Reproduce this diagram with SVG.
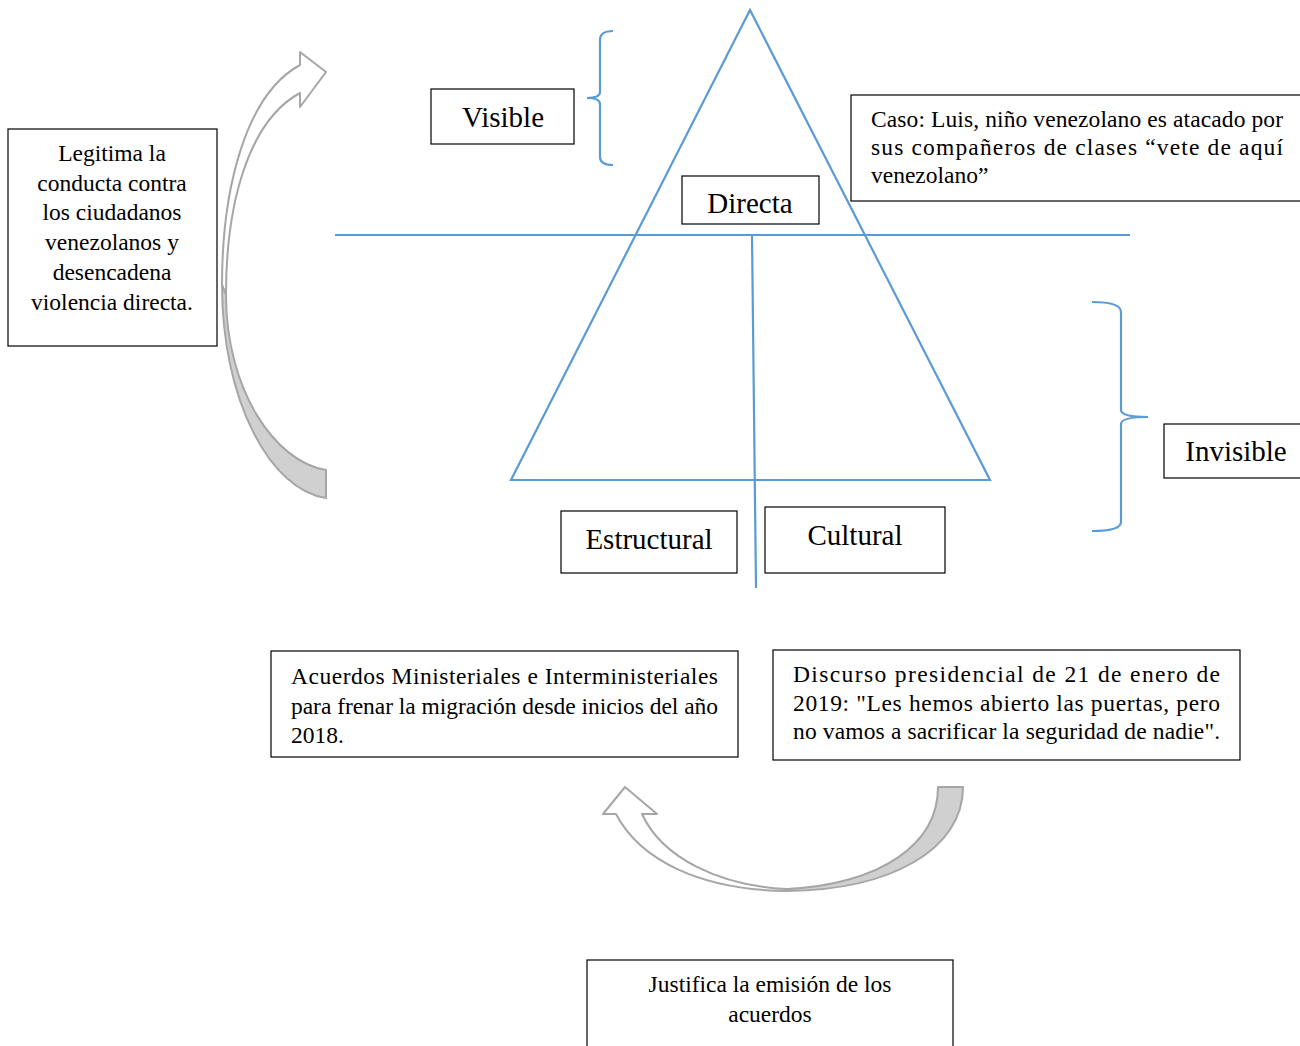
<svg xmlns="http://www.w3.org/2000/svg" width="1300" height="1046" viewBox="0 0 1300 1046">
<style>
.box{fill:#fff;stroke:#000;stroke-width:1.2}
.big{font-family:"Liberation Serif","Times New Roman",serif;font-size:29px;fill:#000;text-anchor:middle}
.txt{font-family:"Liberation Serif","Times New Roman",serif;font-size:23.5px;fill:#000}
.c{text-anchor:middle}
.blue{fill:none;stroke:#5B9BD5;stroke-width:2.2}
.arw{stroke:#A6A6A6;stroke-width:2;stroke-linejoin:round}
</style>
<rect width="1300" height="1046" fill="#fff"/>
<g id="connectors">
<path class="blue" d="M750,10 L511,480 L990,480 Z"/>
<line class="blue" x1="335" y1="235" x2="1130" y2="235"/>
<line class="blue" x1="752" y1="235" x2="756" y2="588"/>
<path class="blue" d="M613,31 Q600,31 600,40 L600,92 Q600,98 587,98 Q600,98 600,104 L600,157 Q600,165 613,165"/>
<path class="blue" d="M1092,302 Q1121,302 1121,312 L1121,410 Q1121,417 1148,417 Q1121,417 1121,424 L1121,522 Q1121,531 1092,531"/>
<path class="arw" fill="#fff" d="M300,93 L300,107 L326,72 L300,52 L300,65 C245,95 222,190 222,285 L226,295 C226,200 250,120 300,93 Z"/>
<path class="arw" fill="#D0D0D0" d="M222,285 C222,400 270,490 326,498 L326,470 C275,462 226,390 226,295 Z"/>
<path class="arw" fill="#fff" d="M642,814 L657,814 L625,787 L603,814 L616,814 C640,860 700,890 787,891 L787,889 C720,886 662,858 642,814 Z"/>
<path class="arw" fill="#D0D0D0" d="M963,787 C963,850 890,890 787,891 L787,889 C880,884 938,845 938,787 Z"/>
</g>
<g id="visible"><rect class="box" x="431" y="89" width="143" height="55"/><text class="big" x="503" y="127">Visible</text></g>
<g id="directa"><rect class="box" x="682" y="176" width="137" height="48"/><text class="big" x="750" y="213">Directa</text></g>
<g id="caso"><rect class="box" x="851" y="95" width="452" height="106"/>
<text class="txt" x="871" y="127" textLength="412" lengthAdjust="spacing">Caso: Luis, niño venezolano es atacado por</text>
<text class="txt" x="871" y="155" textLength="412" lengthAdjust="spacing">sus compañeros de clases “vete de aquí</text>
<text class="txt" x="871" y="183">venezolano”</text></g>
<g id="legitima"><rect class="box" x="8" y="129" width="209" height="217"/>
<text class="txt c" x="112" y="161">Legitima la</text>
<text class="txt c" x="112" y="191">conducta contra</text>
<text class="txt c" x="112" y="220">los ciudadanos</text>
<text class="txt c" x="112" y="250">venezolanos y</text>
<text class="txt c" x="112" y="280">desencadena</text>
<text class="txt c" x="112" y="310">violencia directa.</text></g>
<g id="invisible"><rect class="box" x="1164" y="424" width="139" height="54"/><text class="big" x="1236" y="461">Invisible</text></g>
<g id="estructural"><rect class="box" x="561" y="511" width="176" height="62"/><text class="big" x="649" y="549">Estructural</text></g>
<g id="cultural"><rect class="box" x="765" y="507" width="180" height="66"/><text class="big" x="855" y="545">Cultural</text></g>
<g id="acuerdos"><rect class="box" x="271" y="651" width="467" height="106"/>
<text class="txt" x="291" y="684" textLength="427" lengthAdjust="spacing">Acuerdos Ministeriales e Interministeriales</text>
<text class="txt" x="291" y="714" textLength="427" lengthAdjust="spacing">para frenar la migración desde inicios del año</text>
<text class="txt" x="291" y="743">2018.</text></g>
<g id="discurso"><rect class="box" x="773" y="650" width="467" height="110"/>
<text class="txt" x="793" y="682" textLength="427" lengthAdjust="spacing">Discurso presidencial de 21 de enero de</text>
<text class="txt" x="793" y="711" textLength="427" lengthAdjust="spacing">2019: "Les hemos abierto las puertas, pero</text>
<text class="txt" x="793" y="739" textLength="427" lengthAdjust="spacing">no vamos a sacrificar la seguridad de nadie".</text></g>
<g id="justifica"><rect class="box" x="587" y="960" width="366" height="90"/>
<text class="txt c" x="770" y="992">Justifica la emisión de los</text>
<text class="txt c" x="770" y="1022">acuerdos</text></g>
</svg>
